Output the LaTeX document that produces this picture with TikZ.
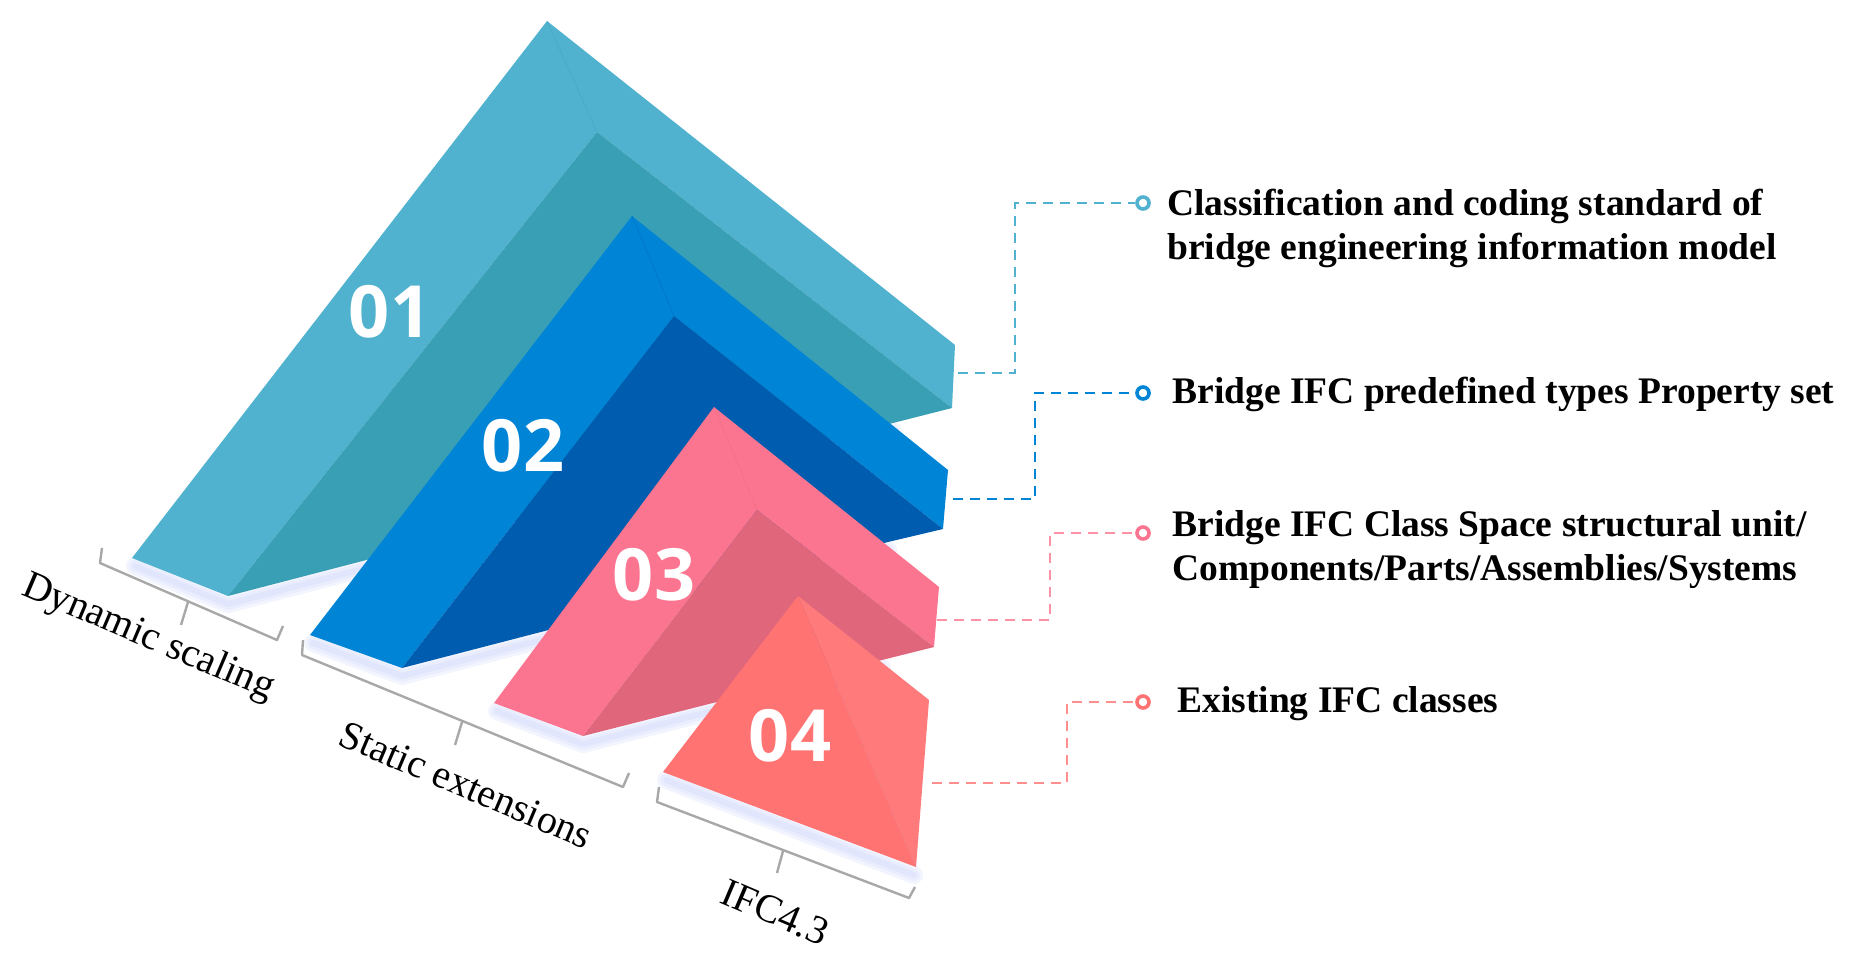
\documentclass[tikz,border=0pt]{standalone}
\usepackage{fontspec}
\setmainfont{Liberation Serif}
\newfontfamily\numfont{Open Sans}
\usetikzlibrary{positioning,calc}
\definecolor{tealL}{RGB}{80,178,206}
\definecolor{tealD}{RGB}{57,159,181}
\definecolor{blueL}{RGB}{0,132,214}
\definecolor{blueD}{RGB}{0,92,175}
\definecolor{pinkL}{RGB}{252,117,144}
\definecolor{pinkD}{RGB}{224,102,124}
\definecolor{salmL}{RGB}{255,115,115}
\definecolor{salmR}{RGB}{255,122,122}
\definecolor{glowC}{RGB}{200,208,250}
\definecolor{brk}{RGB}{168,168,168}
\tikzset{
  seam/.style={ draw=#1, line width=0.5pt, opacity=0.25 }
}
\tikzset{
  glow/.style={ draw=glowC, line width=#1, opacity=0.22, line join=round, line cap=round }
}
\tikzset{
  numtxt/.style={ text=white, font=\numfont\bfseries\fontsize{36}{36}\selectfont, inner sep=0pt }
}
\tikzset{
  circT/.style={ draw=#1, circle, fill=white, line width=1.8pt, minimum size=6pt, inner sep=0pt }
}
\tikzset{
  lnk/.style={ draw=#1, dash pattern=on 5pt off 3.5pt, line width=1.3pt }
}
\tikzset{
  brack/.style={ draw=brk, line width=1.2pt, line join=round }
}
\tikzset{
  lbl/.style={ font=\fontsize{20}{22}\selectfont, inner sep=0pt }
}
\tikzset{
  txt/.style={ font=\bfseries\fontsize{18.75}{22}\selectfont, align=left, inner sep=0pt, anchor=base west }
}

\begin{document}
\begin{tikzpicture}[x=0.5pt,y=-0.5pt]
  \useasboundingbox (0,0) rectangle (1851,963);

  % soft glow under the blocks
  \foreach \w in {9pt,6pt,3pt} {
    \draw[glow=\w] (135,566) -- (228,604) -- (893,431);
    \draw[glow=\w] (313,643) -- (402,676) -- (888,550);
    \draw[glow=\w] (497,711) -- (583,744) -- (882,668);
    \draw[glow=\w] (666,780) -- (914,875);
  }

  % 01
  \fill[tealL] (547,21) -- (955,345) -- (952,408) -- (597,132) -- (228,596) -- (132,558) -- cycle;
  \fill[tealD] (597,132) -- (952,408) -- (893,423) -- (228,596) -- cycle;
  \draw[seam=tealD] (547,21) -- (597,132);

  % 02
  \fill[blueL] (632,216) -- (948,470) -- (943,529) -- (674,316) -- (402,668) -- (310,635) -- cycle;
  \fill[blueD] (674,316) -- (943,529) -- (888,542) -- (402,668) -- cycle;
  \draw[seam=blueD] (632,216) -- (674,316);

  % 03
  \fill[pinkL] (714,407) -- (939,587) -- (934,647) -- (757,510) -- (583,736) -- (494,703) -- cycle;
  \fill[pinkD] (757,510) -- (934,647) -- (882,660) -- (583,736) -- cycle;
  \draw[seam=pinkD] (714,407) -- (757,510);

  % 04
  \fill[salmL] (798,596) -- (916,867) -- (663,772) -- cycle;
  \fill[salmR] (798,596) -- (929,700) -- (916,867) -- cycle;
  \draw[seam=pinkD] (798,596) -- (916,867);

  \node[numtxt] (n1) at (390,312) {01};
  \node[numtxt] (n2) at (523,446) {02};
  \node[numtxt] (n3) at (654,575) {03};
  \node[numtxt] (n4) at (790,736) {04};

  % brackets
  \draw[brack] (102,548) -- (100,563) -- (277,640) -- (283,626);
  \draw[brack] (188,602) -- (181,625);
  \draw[brack] (303,640) -- (302,655) -- (623,787) -- (629,773);
  \draw[brack] (462,722) -- (455,745);
  \draw[brack] (659,787) -- (657,802) -- (909,898) -- (915,887);
  \draw[brack] (783,851) -- (777,873);

  \node[lbl, rotate=-23] (s1) at (148,638) {Dynamic scaling};
  \node[lbl, rotate=-23] (s2) at (466,785) {Static extensions};
  \node[lbl, rotate=-23] (s3) at (775,912) {IFC4.3};

  % markers and texts
  \node[circT=tealL] (c1) at (1143,203) {};
  \node[circT=blueL] (c2) at (1143,393) {};
  \node[circT=pinkL] (c3) at (1143,533) {};
  \node[circT=salmL] (c4) at (1143,702) {};

  \node[txt] (t1) at (1167,259) {Classification and coding standard of\\bridge engineering information model};
  \node[txt] (t2) at (1172,403) {Bridge IFC predefined types Property set};
  \node[txt] (t3) at (1172,580) {Bridge IFC Class Space structural unit/\\Components/Parts/Assemblies/Systems};
  \node[txt] (t4) at (1177,712) {Existing IFC classes};

  % connectors
  \coordinate (e1) at (958,373);
  \coordinate (k1) at (1015,373);
  \coordinate (e2) at (953,499);
  \coordinate (k2) at (1035,499);
  \coordinate (e3) at (937,620);
  \coordinate (k3) at (1050,620);
  \coordinate (e4) at (932,783);
  \coordinate (k4) at (1067,783);

  \draw[lnk=tealL] (e1) -- (k1) |- (c1.west);
  \draw[lnk=blueL] (e2) -- (k2) |- (c2.west);
  \draw[lnk=pinkL!80] (e3) -- (k3) |- (c3.west);
  \draw[lnk=salmL!80] (e4) -- (k4) |- (c4.west);
\end{tikzpicture}
\end{document}
